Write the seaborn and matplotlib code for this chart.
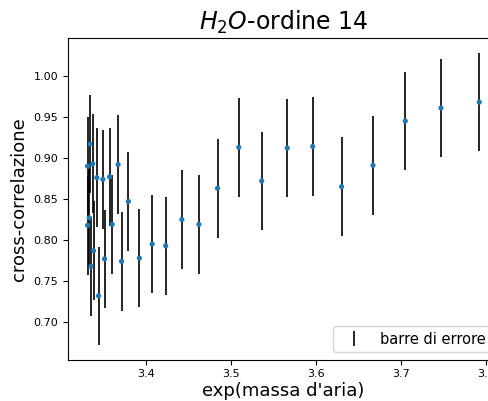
import matplotlib
matplotlib.use("Agg")
import matplotlib.pyplot as plt
import seaborn as sns
import pandas as pd

airmass_exp = [3.331, 3.334, 3.337, 3.342, 3.349, 3.357, 3.367, 3.379,
               3.333, 3.331, 3.360, 3.338, 3.335, 3.351, 3.371, 3.344,
               3.392, 3.407, 3.423, 3.442, 3.462, 3.484, 3.509, 3.536,
               3.566, 3.596, 3.630, 3.667, 3.705, 3.747, 3.792]
cross_corr = [0.890, 0.917, 0.893, 0.876, 0.874, 0.877, 0.892, 0.847,
              0.827, 0.818, 0.819, 0.787, 0.768, 0.777, 0.774, 0.732,
              0.778, 0.795, 0.793, 0.825, 0.819, 0.863, 0.913, 0.872,
              0.912, 0.914, 0.865, 0.891, 0.945, 0.961, 0.968]
errors = [0.06, 0.06, 0.06, 0.06, 0.06, 0.06, 0.06, 0.06,
          0.06, 0.06, 0.06, 0.06, 0.06, 0.06, 0.06, 0.06,
          0.06, 0.06, 0.06, 0.06, 0.06, 0.06, 0.06, 0.06,
          0.06, 0.06, 0.06, 0.06, 0.06, 0.06, 0.06]

df = pd.DataFrame({"x": airmass_exp, "y": cross_corr, "err": errors})

fig = plt.figure(figsize=(4.89, 4.01), dpi=100)
ax = fig.add_axes([0.139, 0.103, 0.881, 0.8015])

ax.errorbar(df["x"], df["y"], yerr=df["err"], fmt="none", ecolor="black",
            elinewidth=1.2, label="barre di errore", zorder=1)
sns.scatterplot(data=df, x="x", y="y", ax=ax, color="#1f77b4", s=14,
                edgecolor="none", zorder=2, legend=False)

ax.set_title("$H_2O$-ordine 14", fontsize=17)
ax.set_xlabel("exp(massa d'aria)", fontsize=13, labelpad=1.5)
ax.set_ylabel("cross-correlazione", fontsize=13)
ax.tick_params(labelsize=8)
ax.set_xticks([3.4, 3.5, 3.6, 3.7, 3.8])
ax.set_yticks([0.70, 0.75, 0.80, 0.85, 0.90, 0.95, 1.00])
ax.legend(loc="lower right", fontsize=10.5)

fig.savefig("out.png", dpi=100)
